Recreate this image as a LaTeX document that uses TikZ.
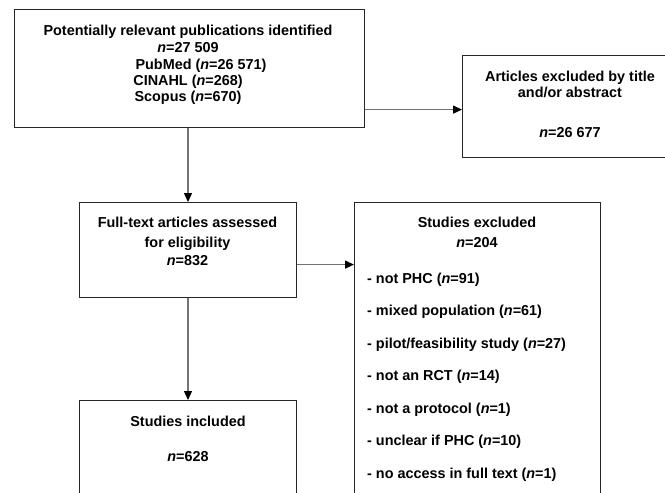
\documentclass[tikz,border=0pt]{standalone}
\usepackage{fontspec}
\setmainfont{Liberation Sans}
\usetikzlibrary{arrows.meta}
\begin{document}
\begin{tikzpicture}[x=1pt,y=-1pt,
  box/.style={draw=black!85, line width=1.2pt, rectangle, inner sep=0pt, anchor=north west},
  txt/.style={font=\fontsize{14.4}{17}\selectfont\bfseries, inner sep=0pt, anchor=base},
  item/.style={txt, anchor=base west},
  arr/.style={draw=black!55, line width=1.4pt, -{Triangle[length=9pt,width=8pt,color=black]}}
]
\useasboundingbox (0,0) rectangle (665,493);
\clip (0,0) rectangle (665,493);
% boxes
\node[box, minimum width=350pt, minimum height=118pt] (src) at (14,9) {};
\node[box, minimum width=216pt, minimum height=102pt] (exa) at (462,55) {};
\node[box, minimum width=217pt, minimum height=95pt] (full) at (79,202) {};
\node[box, minimum width=246pt, minimum height=330pt] (exb) at (354,202) {};
\node[box, minimum width=217pt, minimum height=130pt] (incl) at (79,400) {};
% texts
\node[txt] (t1) at (188,35) {Potentially relevant publications identified};
\node[txt] (t2) at (188,52) {\textit{n}=27 509};
\node[txt] (t3) at (201,69) {PubMed (\textit{n}=26 571)};
\node[txt] (t4) at (188,85) {CINAHL (\textit{n}=268)};
\node[txt] (t5) at (188,101) {Scopus (\textit{n}=670)};
\node[txt] (a1) at (570,81) {Articles excluded by title};
\node[txt] (a2) at (570,97) {and/or abstract};
\node[txt] (a3) at (570,137) {\textit{n}=26 677};
\node[txt] (f1) at (187.5,227) {Full-text articles assessed};
\node[txt] (f2) at (187.5,247) {for eligibility};
\node[txt] (f3) at (187.5,265) {\textit{n}=832};
\node[txt] (b1) at (477,227) {Studies excluded};
\node[txt] (b2) at (477,247) {\textit{n}=204};
\node[item] (i1) at (367,283) {- not PHC (\textit{n}=91)};
\node[item] (i2) at (367,315.5) {- mixed population (\textit{n}=61)};
\node[item] (i3) at (367,348) {- pilot/feasibility study (\textit{n}=27)};
\node[item] (i4) at (367,380.5) {- not an RCT (\textit{n}=14)};
\node[item] (i5) at (367,413) {- not a protocol (\textit{n}=1)};
\node[item] (i6) at (367,445.5) {- unclear if PHC (\textit{n}=10)};
\node[item] (i7) at (367,478) {- no access in full text (\textit{n}=1)};
\node[txt] (c1) at (188,426) {Studies included};
\node[txt] (c2) at (188,461) {\textit{n}=628};
% connectors
\draw[arr] (src.south -| 188,0) -- (full.north -| 188,0);
\draw[arr] ([yshift=-41pt]src.east) -- ([yshift=-41pt]src.east -| exa.west);
\draw[arr] ([yshift=-14.5pt]full.east) -- ([yshift=-14.5pt]full.east -| exb.west);
\draw[arr] (full.south -| 188,0) -- (incl.north -| 188,0);
\end{tikzpicture}
\end{document}
